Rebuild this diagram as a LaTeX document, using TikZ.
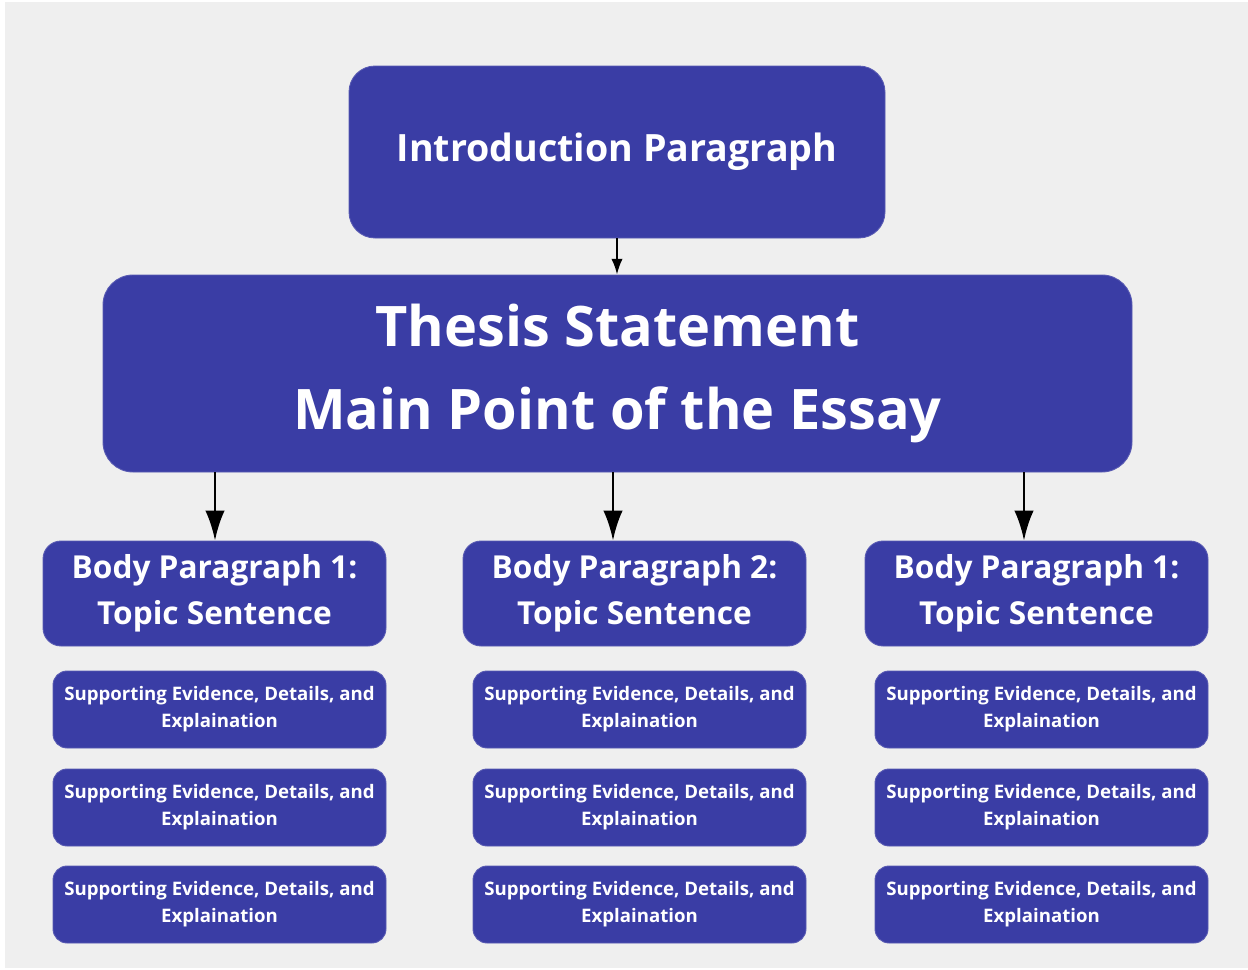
\documentclass[tikz,border=0pt]{standalone}
\usepackage{fontspec}
\setmainfont{Open Sans}
\usetikzlibrary{arrows.meta,calc}
\definecolor{boxblue}{RGB}{58,61,165}
\definecolor{bggray}{RGB}{239,239,239}
\tikzset{
  box/.style={rectangle, fill=boxblue, draw=boxblue!85!white, line width=0.5pt, text=white, font=\bfseries, align=center, inner sep=0pt},
  introbox/.style={box, minimum width=536\px, minimum height=172\px, rounded corners=26\px, font=\fontsize{21.4}{26}\bfseries\selectfont},
  thesisbox/.style={box, minimum width=1029\px, minimum height=197\px, rounded corners=30\px, font=\fontsize{31.8}{47}\bfseries\selectfont},
  bodybox/.style={box, minimum width=343\px, minimum height=105\px, rounded corners=18\px, font=\fontsize{18}{26}\bfseries\selectfont},
  supbox/.style={box, minimum width=333\px, minimum height=77\px, rounded corners=14\px, font=\fontsize{10.6}{15.5}\bfseries\selectfont},
  bigarrow/.style={line width=1.6pt, -{Latex[length=17pt,width=11pt]}},
  smallarrow/.style={line width=1.1pt, -{Latex[length=9pt,width=6.5pt]}},
}
\newlength{\px}
\setlength{\px}{0.02cm}
\begin{document}
\begin{tikzpicture}[x=0.02cm,y=-0.02cm]
\useasboundingbox (0,0) rectangle (1248,970);
\fill[white] (0,0) rectangle (1248,970);
\fill[bggray] (5,2) rectangle (1248,968);

\node[introbox] (intro) at (617,152) {Introduction Paragraph};
\node[thesisbox] (thesis) at (617.5,373.5) {Thesis Statement\\Main Point of the Essay};

\node[bodybox] (b1) at (214.5,593.5) {Body Paragraph 1:\\Topic Sentence};
\node[bodybox] (b2) at (634.5,593.5) {Body Paragraph 2:\\Topic Sentence};
\node[bodybox] (b3) at (1036.5,593.5) {Body Paragraph 1:\\Topic Sentence};

\foreach \c/\x in {1/219.5, 2/639.5, 3/1041.5}{
  \node[supbox] (s\c a) at (\x,709.5) {Supporting Evidence, Details, and\\Explaination};
  \node[supbox] (s\c b) at (\x,807.5) {Supporting Evidence, Details, and\\Explaination};
  \node[supbox] (s\c c) at (\x,904.5) {Supporting Evidence, Details, and\\Explaination};
}

\coordinate (a0) at (617,238);
\coordinate (a1) at (215,472);
\coordinate (a2) at (613,472);
\coordinate (a3) at (1024,472);
\draw[smallarrow] (a0) -- (a0 |- thesis.north);
\draw[bigarrow] (a1) -- (a1 |- b1.north);
\draw[bigarrow] (a2) -- (a2 |- b2.north);
\draw[bigarrow] (a3) -- (a3 |- b3.north);
\end{tikzpicture}
\end{document}
